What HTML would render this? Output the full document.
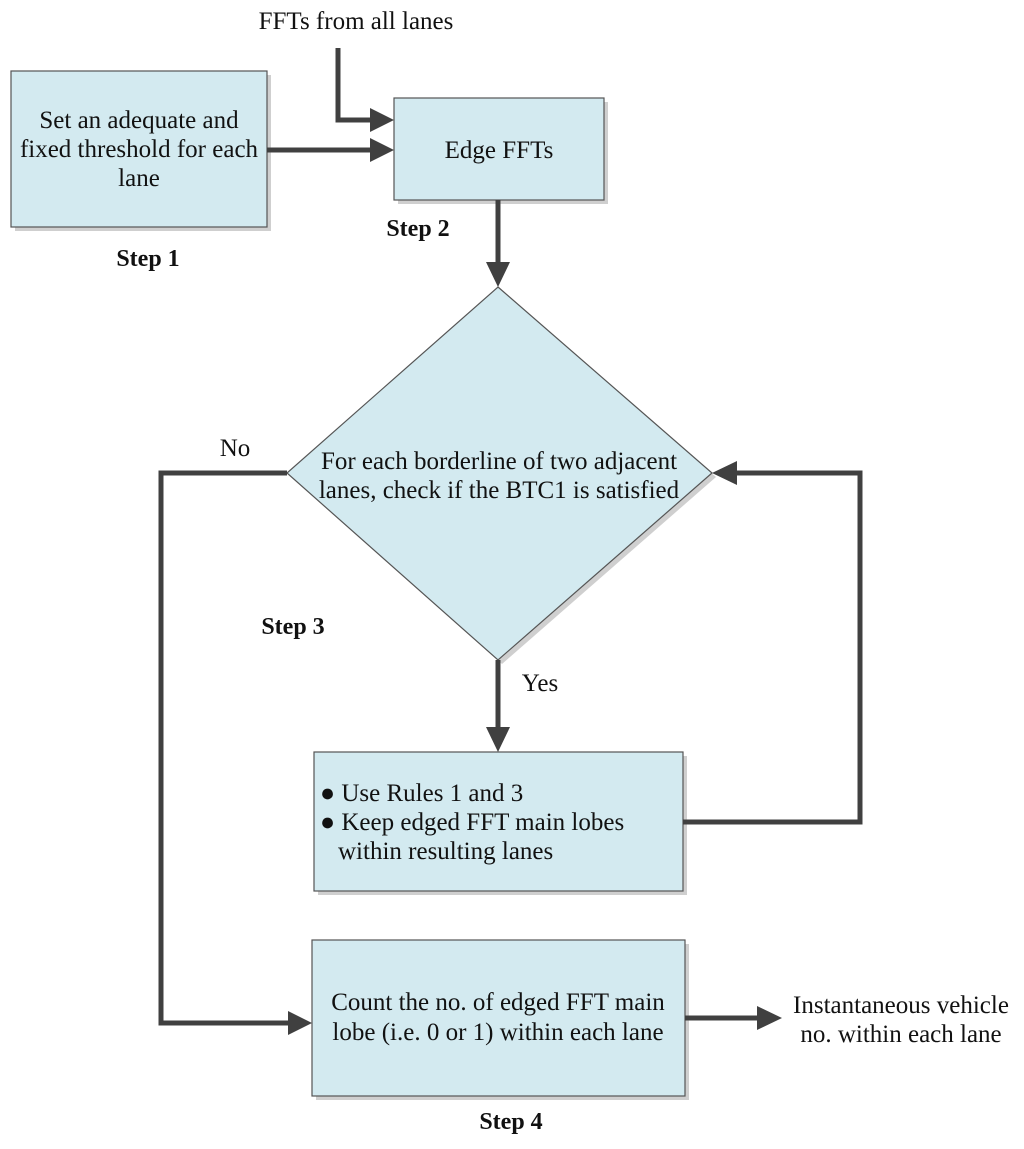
<!DOCTYPE html>
<html><head><meta charset="utf-8"><style>
html,body{margin:0;padding:0;background:#fff;}
svg{display:block;}
text{font-family:"Liberation Serif",serif;font-size:25px;fill:#111;}
.b{font-weight:bold;font-size:24px;}
</style></head><body>
<svg width="1024" height="1149" viewBox="0 0 1024 1149">
<g fill="#cfcfcf">
<rect x="15" y="75" width="256" height="156"/>
<rect x="398" y="102" width="210" height="102"/>
<polygon points="502,291 716,477 502,664 291,477"/>
<rect x="318" y="756" width="369" height="139"/>
<rect x="316" y="944" width="373" height="156"/>
</g>
<g fill="#d3eaf0" stroke="#555" stroke-width="1.2">
<rect x="11" y="71" width="256" height="156"/>
<rect x="394" y="98" width="210" height="102"/>
<polygon points="498,287 712,473 498,660 287,473"/>
<rect x="314" y="752" width="369" height="139"/>
<rect x="312" y="940" width="373" height="156"/>
</g>
<g fill="none" stroke="#404040" stroke-width="5" stroke-linejoin="miter">
<path d="M338,48 V120 H370"/>
<path d="M267,150 H370"/>
<path d="M498,200 V264"/>
<path d="M287,473 H161 V1023 H288"/>
<path d="M498,660 V729"/>
<path d="M683,822 H860 V473 H736"/>
<path d="M685,1018 H758"/>
</g>
<g fill="#404040">
<polygon points="394,120 370,108 370,132"/>
<polygon points="394,150 370,138 370,162"/>
<polygon points="498,287 486,262 510,262"/>
<polygon points="312,1023 288,1011 288,1035"/>
<polygon points="498,752 486,727 510,727"/>
<polygon points="712,473 737,461 737,485"/>
<polygon points="782,1018 757,1006 757,1030"/>
</g>
<text x="356" y="29" text-anchor="middle">FFTs from all lanes</text>
<text x="139" y="128" text-anchor="middle">Set an adequate and</text>
<text x="139" y="157" text-anchor="middle">fixed threshold for each</text>
<text x="139" y="186" text-anchor="middle">lane</text>
<text class="b" x="148" y="266" text-anchor="middle">Step 1</text>
<text x="499" y="158" text-anchor="middle">Edge FFTs</text>
<text class="b" x="418" y="236" text-anchor="middle">Step 2</text>
<text x="499" y="469" text-anchor="middle">For each borderline of two adjacent</text>
<text x="499" y="498" text-anchor="middle">lanes, check if the BTC1 is satisfied</text>
<text x="235" y="456" text-anchor="middle">No</text>
<text x="540" y="691" text-anchor="middle">Yes</text>
<text class="b" x="293" y="634" text-anchor="middle">Step 3</text>
<text x="320" y="801">● Use Rules 1 and 3</text>
<text x="320" y="830">● Keep edged FFT main lobes</text>
<text x="338" y="859">within resulting lanes</text>
<text x="498" y="1010" text-anchor="middle">Count the no. of  edged  FFT main</text>
<text x="498" y="1040" text-anchor="middle">lobe (i.e. 0 or 1) within each lane</text>
<text x="901" y="1013" text-anchor="middle">Instantaneous vehicle</text>
<text x="901" y="1042" text-anchor="middle">no. within each lane</text>
<text class="b" x="511" y="1129" text-anchor="middle">Step 4</text>
</svg>
</body></html>
